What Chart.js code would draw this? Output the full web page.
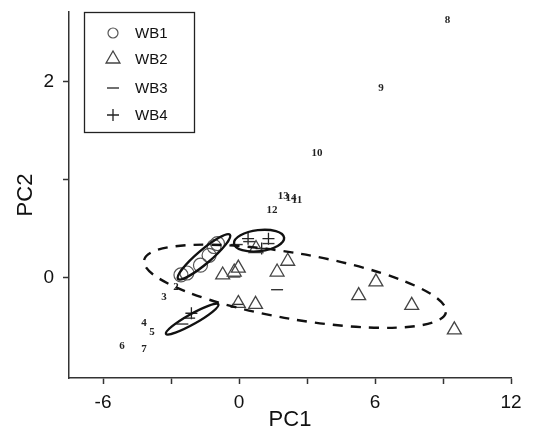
<!DOCTYPE html>
<html>
<head>
<meta charset="utf-8">
<script src="https://cdn.jsdelivr.net/npm/chart.js@4.4.1/dist/chart.umd.min.js"></script>
<style>
  html, body { margin: 0; padding: 0; background: #fff; }
</style>
</head>
<body>
<canvas id="pca-chart" width="533" height="435"></canvas>
<script>
// scores, [PC1, PC2]
const wb1 = [[-2.56, 0.03], [-2.3, 0.05], [-1.7, 0.13], [-1.32, 0.23], [-1.1, 0.32], [-0.95, 0.35]];
const wb2 = [[-0.72, 0.03], [-0.21, 0.06], [-0.03, 0.10], [0.75, 0.30], [1.68, 0.06], [2.15, 0.17],
             [6.04, -0.04], [5.28, -0.18], [7.62, -0.28], [9.5, -0.53], [-0.03, -0.26], [0.73, -0.27]];
const wb3 = [[-0.1, 0.34], [0.45, 0.37], [1.3, 0.35], [1.68, -0.12], [-0.2, 0.01], [-0.05, -0.27],
             [-2.2, -0.41], [-2.5, -0.47]];
const wb4 = [[0.4, 0.40], [1.3, 0.40], [1.0, 0.30], [-2.1, -0.36]];

// variable numbers (loadings) plotted as text
const varNames = ['2', '3', '4', '5', '6', '7', '8', '9', '10', '11', '12', '13', '14'];
const varX = [-2.78, -3.31, -4.19, -3.84, -5.16, -4.19, 9.2, 6.26, 3.44, 2.56, 1.46, 1.95, 2.29];
const varY = [-0.09, -0.2, -0.46, -0.55, -0.7, -0.73, 2.63, 1.93, 1.27, 0.79, 0.69, 0.83, 0.81];

// group ellipses: ends of the long axis, and short/long ratio
const ellipses = [
  { name: 'WB2', from: [-4.19, 0.18], to: [9.13, -0.35], ratio: 0.215 },
  { name: 'WB1', from: [-2.69, -0.01], to: [-0.4, 0.44], ratio: 0.2 },
  { name: 'WB3', from: [-0.22, 0.35], to: [1.99, 0.41], ratio: 0.42 },
  { name: 'WB4', from: [-3.22, -0.57], to: [-0.91, -0.27], ratio: 0.17 }
];

const xTicks = [-6, -3, 0, 3, 6, 9, 12];
const xLabels = [-6, 0, 6, 12];
const yTicks = [0, 1, 2];
const yLabels = [0, 2];

const toPts = arr => arr.map(p => ({ x: p[0], y: p[1] }));

const font = '"Liberation Sans", Arial, sans-serif';

const ellipsePlugin = {
  id: 'ellipses',
  afterDatasetsDraw(chart) {
    const { ctx, scales: { x, y } } = chart;
    ctx.save();
    ctx.strokeStyle = '#111';
    ctx.lineWidth = 2.4;
    ellipses.forEach(e => {
      const x1 = x.getPixelForValue(e.from[0]), y1 = y.getPixelForValue(e.from[1]);
      const x2 = x.getPixelForValue(e.to[0]), y2 = y.getPixelForValue(e.to[1]);
      const a = Math.hypot(x2 - x1, y2 - y1) / 2;
      ctx.setLineDash(e.name === 'WB2' ? [10, 8] : []);
      ctx.beginPath();
      ctx.ellipse((x1 + x2) / 2, (y1 + y2) / 2, a, a * e.ratio, Math.atan2(y2 - y1, x2 - x1), 0, Math.PI * 2);
      ctx.stroke();
    });
    ctx.restore();
  }
};

const varLabelPlugin = {
  id: 'varLabels',
  afterDatasetsDraw(chart) {
    const { ctx, scales: { x, y } } = chart;
    ctx.save();
    ctx.font = 'bold 11px "Liberation Serif", "DejaVu Serif", serif';
    ctx.fillStyle = '#222';
    ctx.textAlign = 'center';
    ctx.textBaseline = 'middle';
    varNames.forEach((t, i) => {
      ctx.fillText(t, x.getPixelForValue(varX[i]), y.getPixelForValue(varY[i]));
    });
    ctx.restore();
  }
};

// legend drawn inside the plot, framed
const boxLegend = {
  id: 'boxLegend',
  afterDraw(chart) {
    const ctx = chart.ctx;
    ctx.save();
    ctx.strokeStyle = '#222';
    ctx.lineWidth = 1.3;
    ctx.strokeRect(84.5, 12.5, 110, 120);
    const rows = [33, 59, 88, 115];
    chart.data.datasets.forEach((ds, i) => {
      ctx.strokeStyle = ds.borderColor;
      ctx.fillStyle = 'rgba(0,0,0,0)';
      ctx.lineWidth = ds.borderWidth;
      Chart.helpers.drawPoint(ctx, { pointStyle: ds.pointStyle, radius: ds.legendRadius, borderWidth: ds.borderWidth, rotation: 0 }, 113, rows[i]);
      ctx.fillStyle = '#111';
      ctx.font = '15px ' + font;
      ctx.textBaseline = 'middle';
      ctx.textAlign = 'left';
      ctx.fillText(ds.label, 135, rows[i] + 1);
    });
    ctx.restore();
  }
};

const noPad = s => { s.paddingTop = 0; s.paddingBottom = 0; s.paddingLeft = 0; s.paddingRight = 0; };

const config = {
  type: 'scatter',
  data: {
    datasets: [
      { label: 'WB1', data: toPts(wb1), pointStyle: 'circle', pointRadius: 7, legendRadius: 5,
        borderColor: '#555', backgroundColor: 'rgba(0,0,0,0)', borderWidth: 1.2 },
      { label: 'WB2', data: toPts(wb2), pointStyle: 'triangle', pointRadius: 8, legendRadius: 8,
        borderColor: '#444', backgroundColor: 'rgba(0,0,0,0)', borderWidth: 1.3 },
      { label: 'WB3', data: toPts(wb3), pointStyle: 'line', pointRadius: 6, legendRadius: 6,
        borderColor: '#333', backgroundColor: 'rgba(0,0,0,0)', borderWidth: 1.4 },
      { label: 'WB4', data: toPts(wb4), pointStyle: 'cross', pointRadius: 6, legendRadius: 6,
        borderColor: '#222', backgroundColor: 'rgba(0,0,0,0)', borderWidth: 1.3 }
    ]
  },
  options: {
    responsive: false,
    animation: false,
    events: [],
    layout: { padding: { top: 12, right: 22, left: 0, bottom: 0 } },
    plugins: { legend: { display: false }, tooltip: { enabled: false } },
    scales: {
      x: {
        type: 'linear', min: -7.5, max: 12,
        afterBuildTicks: s => { s.ticks = xTicks.map(v => ({ value: v })); },
        afterFit: s => { s.height = 57; noPad(s); },
        ticks: {
          callback: v => xLabels.includes(v) ? String(v) : '',
          font: { size: 19, family: font }, color: '#111', padding: 7, maxRotation: 0, autoSkip: false
        },
        grid: { drawOnChartArea: false, drawTicks: true, tickLength: 6, tickColor: '#333', tickWidth: 1.5 },
        border: { color: '#333', width: 1.5 },
        title: { display: true, text: 'PC1', font: { size: 22, family: font }, color: '#111', padding: { top: 0, bottom: 2 } }
      },
      y: {
        type: 'linear', min: -1.02, max: 2.71,
        afterBuildTicks: s => { s.ticks = yTicks.map(v => ({ value: v })); },
        afterFit: s => { s.width = 69; noPad(s); },
        ticks: {
          callback: v => yLabels.includes(v) ? String(v) : '',
          font: { size: 19, family: font }, color: '#111', padding: 9, autoSkip: false
        },
        grid: { drawOnChartArea: false, drawTicks: true, tickLength: 6, tickColor: '#333', tickWidth: 1.5 },
        border: { color: '#333', width: 1.5 },
        title: { display: true, text: 'PC2', font: { size: 22, family: font }, color: '#111', padding: { top: 13, bottom: 0 } }
      }
    }
  },
  plugins: [ellipsePlugin, varLabelPlugin, boxLegend]
};

var pcaChart = new Chart(document.getElementById('pca-chart'), config);
</script>
</body>
</html>
